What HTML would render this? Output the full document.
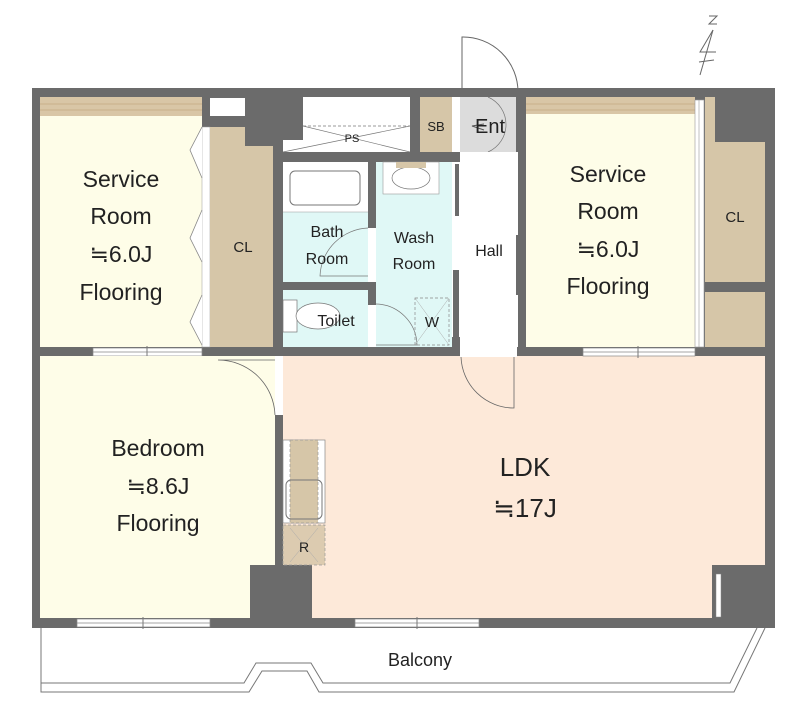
<!DOCTYPE html>
<html><head><meta charset="utf-8"><style>
html,body{margin:0;padding:0;background:#fff;}
svg{display:block;}
text{font-family:"Liberation Sans","DejaVu Sans",sans-serif;fill:#222;}
</style></head><body>
<svg width="800" height="720" viewBox="0 0 800 720" xmlns="http://www.w3.org/2000/svg">
<!-- compass -->
<g stroke="#666" fill="none" stroke-width="1">
<path d="M709 16 L717 16 L709 24 L717 24"/>
<path d="M713 30 L700 75"/>
<path d="M713 30 L700 52 L716 52"/>
<path d="M699 62 L714 60"/>
</g>
<!-- entrance door swing -->
<path d="M462 97 L462 37 A55 55 0 0 1 518 92" fill="#fff" stroke="#666"/>
<!-- outer wall block -->
<rect x="32" y="88" width="743" height="540" fill="#6b6b6b"/>
<!-- left service room -->
<rect x="40" y="97" width="162" height="250" fill="#fefde8"/>
<rect x="40" y="97" width="162" height="19" fill="#d9c6a6"/>
<line x1="40" y1="104" x2="202" y2="104" stroke="#c9b08a"/><line x1="40" y1="110" x2="202" y2="110" stroke="#c9b08a"/>
<rect x="210" y="98" width="35" height="18" fill="#fff"/>
<rect x="202" y="127" width="8" height="220" fill="#fff" stroke="#999" stroke-width="0.5"/>
<path d="M210 127 H245 V146 H273 V347 H210 Z" fill="#d6c6a8"/>
<g fill="#fff" stroke="#888" stroke-width="0.8">
<path d="M202 127 L190 150 L202 178"/><path d="M202 210 L190 238 L202 262"/><path d="M202 295 L190 322 L202 345"/>
</g>
<!-- window left -->
<rect x="93" y="348" width="109" height="8" fill="#fff" stroke="#888" stroke-width="0.7"/>
<line x1="93" y1="352" x2="202" y2="352" stroke="#888" stroke-width="0.7"/><line x1="147" y1="346" x2="147" y2="358" stroke="#777"/>
<!-- bedroom -->
<rect x="40" y="356" width="235" height="262" fill="#fefde8"/>
<rect x="250" y="565" width="62" height="53" fill="#6b6b6b"/>
<!-- LDK -->
<rect x="283" y="356" width="482" height="262" fill="#fde9d9"/>
<rect x="250" y="565" width="62" height="53" fill="#6b6b6b"/>
<rect x="712" y="565" width="53" height="53" fill="#6b6b6b"/>
<rect x="716" y="574" width="5" height="43" fill="#fff" stroke="#888" stroke-width="0.5"/>
<!-- bedroom door -->
<rect x="275" y="356" width="8" height="59" fill="#fff"/>
<path d="M275 415 A57 57 0 0 0 218 360 L275 360" fill="none" stroke="#666" stroke-width="0.8"/>
<!-- hall door -->
<rect x="460" y="347" width="57" height="10" fill="#fff"/>
<path d="M461 357 A53 53 0 0 0 514 408 L514 357" fill="none" stroke="#666" stroke-width="0.8"/>
<!-- kitchen counter -->
<rect x="283" y="440" width="42" height="83" fill="#fff" stroke="#888" stroke-width="0.7"/>
<rect x="290" y="440" width="28" height="83" fill="#d6c6a8" stroke="#999" stroke-dasharray="3,2" stroke-width="0.7"/>
<rect x="286" y="480" width="36" height="39" rx="5" fill="none" stroke="#777"/>
<rect x="283" y="525" width="42" height="40" fill="#dccbb0" stroke="#999" stroke-dasharray="3,2" stroke-width="0.7"/>
<path d="M290 528 L318 562 M318 528 L290 562" stroke="#aaa" stroke-width="0.5"/>
<text x="304" y="552" font-size="14" text-anchor="middle">R</text>
<!-- LDK window -->
<rect x="355" y="619" width="124" height="8" fill="#fff" stroke="#888" stroke-width="0.7"/>
<line x1="355" y1="623" x2="479" y2="623" stroke="#888" stroke-width="0.7"/><line x1="417" y1="617" x2="417" y2="629" stroke="#777"/>
<!-- bedroom window -->
<rect x="77" y="619" width="133" height="8" fill="#fff" stroke="#888" stroke-width="0.7"/>
<line x1="77" y1="623" x2="210" y2="623" stroke="#888" stroke-width="0.7"/><line x1="143" y1="617" x2="143" y2="629" stroke="#777"/>
<!-- PS -->
<path d="M303 97 H410 V152 H283 V140 H303 Z" fill="#fff"/>
<line x1="303" y1="126" x2="410" y2="126" stroke="#777" stroke-dasharray="3,2" stroke-width="0.7"/>
<path d="M303 126 L410 152 M410 126 L283 152" stroke="#777" stroke-width="0.7"/>
<text x="352" y="142" font-size="11" text-anchor="middle">PS</text>
<!-- SB -->
<rect x="420" y="97" width="32" height="55" fill="#d6c6a8"/>
<text x="436" y="131" font-size="13" text-anchor="middle">SB</text>
<!-- Ent -->
<rect x="452" y="97" width="8" height="55" fill="#fff"/>
<rect x="460" y="97" width="56" height="55" fill="#dcdcdc"/>
<path d="M488 97 A30 30 0 0 1 488 152" fill="none" stroke="#777" stroke-width="0.7"/>
<path d="M484 124 L472 126 L484 130" fill="none" stroke="#555"/>
<text x="490" y="133" font-size="20" text-anchor="middle">Ent</text>
<!-- Hall -->
<rect x="460" y="152" width="58" height="195" fill="#fff"/>
<rect x="452" y="162" width="8" height="175" fill="#fff"/>
<rect x="455" y="164" width="4" height="52" fill="#6b6b6b"/>
<rect x="453" y="270" width="6" height="70" fill="#6b6b6b"/>
<rect x="516" y="235" width="4" height="60" fill="#6b6b6b"/>
<text x="489" y="256" font-size="16" text-anchor="middle">Hall</text>
<!-- Bath -->
<rect x="283" y="162" width="85" height="120" fill="#e0f8f6"/>
<rect x="283" y="162" width="85" height="50" fill="#fff"/>
<rect x="290" y="171" width="70" height="34" rx="5" fill="none" stroke="#777"/>
<line x1="283" y1="212" x2="368" y2="212" stroke="#999" stroke-width="0.6"/>
<rect x="368" y="228" width="8" height="54" fill="#fff"/>
<path d="M368 228 A50 50 0 0 0 320 276 L368 276" fill="none" stroke="#777" stroke-width="0.7"/>
<text x="327" y="237" font-size="16" text-anchor="middle">Bath</text>
<text x="327" y="264" font-size="16" text-anchor="middle">Room</text>
<!-- Toilet -->
<rect x="283" y="290" width="85" height="57" fill="#e0f8f6"/>
<rect x="283" y="300" width="14" height="32" fill="#fff" stroke="#777" stroke-width="0.7"/>
<ellipse cx="318" cy="316" rx="22" ry="13" fill="#fff" stroke="#777" stroke-width="0.7"/>
<text x="336" y="326" font-size="16" text-anchor="middle">Toilet</text>
<!-- Wash -->
<rect x="376" y="162" width="76" height="185" fill="#e0f8f6"/>
<rect x="383" y="162" width="56" height="32" fill="#fff" stroke="#999" stroke-width="0.6"/>
<ellipse cx="411" cy="178" rx="19" ry="11" fill="#fff" stroke="#777" stroke-width="0.7"/>
<rect x="396" y="162" width="30" height="6" fill="#d6c6a8"/>
<rect x="368" y="305" width="8" height="42" fill="#fff"/>
<path d="M376 304 A42 42 0 0 1 417 345 L376 345" fill="none" stroke="#777" stroke-width="0.7"/>
<rect x="415" y="298" width="34" height="47" fill="none" stroke="#888" stroke-dasharray="3,2" stroke-width="0.7"/>
<path d="M415 298 L449 345 M449 298 L415 345" stroke="#aaa" stroke-width="0.5"/>
<text x="432" y="327" font-size="15" text-anchor="middle">W</text>
<text x="414" y="243" font-size="16" text-anchor="middle">Wash</text>
<text x="414" y="269" font-size="16" text-anchor="middle">Room</text>
<!-- right service room -->
<rect x="526" y="97" width="169" height="250" fill="#fefde8"/>
<rect x="526" y="97" width="169" height="17" fill="#d9c6a6"/>
<line x1="526" y1="104" x2="695" y2="104" stroke="#c9b08a"/><line x1="526" y1="110" x2="695" y2="110" stroke="#c9b08a"/>
<rect x="695" y="100" width="9" height="247" fill="#fff" stroke="#999" stroke-width="0.6"/>
<line x1="699" y1="100" x2="699" y2="347" stroke="#999" stroke-width="0.6"/>
<path d="M705 97 H715 V142 H765 V282 H705 Z" fill="#d6c6a8"/>
<rect x="705" y="292" width="60" height="55" fill="#d6c6a8"/>
<text x="735" y="222" font-size="15" text-anchor="middle">CL</text>
<rect x="583" y="348" width="112" height="8" fill="#fff" stroke="#888" stroke-width="0.7"/>
<line x1="583" y1="352" x2="695" y2="352" stroke="#888" stroke-width="0.7"/><line x1="638" y1="346" x2="638" y2="358" stroke="#777"/>
<!-- balcony -->
<path d="M41 628 V692 H249 L262 671 H307 L319 692 H734 L765 628" fill="none" stroke="#777" stroke-width="1"/>
<path d="M41 683 H244 L256 663 H311 L323 683 H730 L757 628" fill="none" stroke="#777" stroke-width="1"/>
<text x="420" y="666" font-size="18" text-anchor="middle">Balcony</text>
<!-- labels -->
<g font-size="23" text-anchor="middle">
<text x="121" y="187">Service</text><text x="121" y="224">Room</text><text x="121" y="262">≒6.0J</text><text x="121" y="300">Flooring</text>
<text x="608" y="182">Service</text><text x="608" y="219">Room</text><text x="608" y="257">≒6.0J</text><text x="608" y="294">Flooring</text>
<text x="158" y="456">Bedroom</text><text x="158" y="494">≒8.6J</text><text x="158" y="531">Flooring</text>
<text x="525" y="476" font-size="26">LDK</text><text x="525" y="517" font-size="26">≒17J</text>
</g>
<text x="243" y="252" font-size="15" text-anchor="middle">CL</text>
</svg>
</body></html>
